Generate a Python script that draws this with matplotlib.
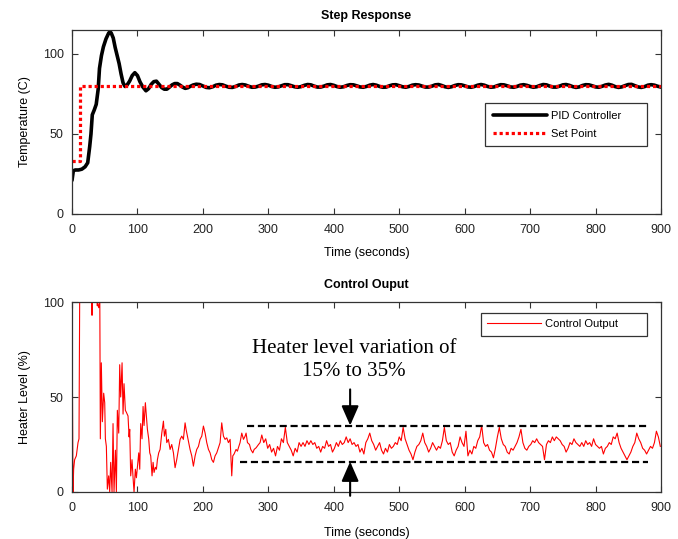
import numpy as np
import matplotlib
matplotlib.use('Agg')
import matplotlib.pyplot as plt

plt.rcParams['font.family'] = ['Liberation Sans', 'DejaVu Sans']

# temperature (C)
temp_t = [0, 2, 5, 10, 15, 20, 24, 27, 29, 31,
          34, 37, 40, 42, 45, 48, 52, 56, 58, 60,
          63, 66, 69, 72, 75, 78, 81, 84, 88, 92,
          96, 100, 104, 108, 113, 117, 121, 125, 129, 133,
          137, 141, 145, 149, 153, 157, 161, 165, 169, 173,
          177] + list(range(180, 901, 5))
temp_v = [21, 27, 27.5, 27.5, 28, 29.5, 32, 42, 50, 62,
          65, 68.5, 78, 91, 99, 104.5, 109.5, 113, 114, 113,
          110, 104, 99, 94, 87.5, 82, 79.7, 80.5, 83, 86.5,
          88.3, 86.5, 82.5, 79.5, 77, 78.3, 81, 82.7, 83, 81,
          79, 78, 78, 79.3, 80.7, 81.5, 81.5, 80.5, 79.3, 78.5,
          78.9,
          # 180 .. 900 every 5 s
          79.6, 80.6, 81.1, 80.9, 80.0, 79.1, 78.9, 79.5, 80.5, 80.9, 80.7, 79.9,
          79.2, 79.1, 79.7, 80.6, 80.9, 80.6, 79.8, 79.2, 79.3, 79.9, 80.7, 80.9,
          80.5, 79.7, 79.2, 79.4, 80.1, 80.8, 80.8, 80.2, 79.5, 79.2, 79.6, 80.4,
          80.9, 80.7, 79.9, 79.3, 79.3, 79.9, 80.7, 80.9, 80.4, 79.6, 79.2, 79.5,
          80.3, 80.8, 80.7, 80.1, 79.4, 79.2, 79.7, 80.5, 80.9, 80.5, 79.7, 79.2,
          79.3, 80.1, 80.7, 80.8, 80.2, 79.5, 79.2, 79.7, 80.5, 80.8, 80.6, 79.9,
          79.3, 79.3, 79.9, 80.7, 80.9, 80.3, 79.5, 79.1, 79.5, 80.3, 80.8, 80.7,
          80.1, 79.4, 79.2, 79.7, 80.5, 80.9, 80.5, 79.7, 79.2, 79.4, 80.2, 80.8,
          80.7, 80.1, 79.4, 79.2, 79.7, 80.5, 80.8, 80.4, 79.7, 79.2, 79.5, 80.3,
          80.9, 80.7, 79.9, 79.3, 79.3, 79.9, 80.7, 80.9, 80.4, 79.6, 79.1, 79.4,
          80.3, 80.8, 80.7, 80.1, 79.4, 79.2, 79.8, 80.6, 81.0, 80.5, 79.6, 79.1,
          79.4, 80.2, 80.9, 81.0, 80.2, 79.4, 79.1, 79.6, 80.5, 80.8, 80.5, 79.8,
          79.3]

# set point
sp_t = [0, 12, 900]
sp_v = [33, 80, 80]

# heater output (%)
ctrl_t = [0, 1.5, 2.5, 4, 6.6, 9.2, 10.7, 11.7, 30, 30.6,
          31.2, 38.5, 38.7, 39, 40.8, 42.5, 43.3, 44.8, 46.4, 48.4,
          50, 51, 52.5, 54, 56, 57.6, 59.1, 61.2, 62.7, 64.2,
          66.3, 67.8, 69.3, 71.4, 72.9, 74.4, 76.5, 78, 79.5, 81.5,
          83, 85.6, 87.2, 88.2, 89.7, 91.7, 93.3, 94.8, 96.8, 98.4,
          99.9, 102, 103.5, 105, 107, 108.6, 110.1, 112.1, 113.7, 115.2,
          117.2, 118.8, 120.3, 122.3, 123.9, 125.4, 127.4, 129, 130.5, 132.5,
          134.6, 137.2, 139.7, 141.2, 143.3, 144.8, 147.3, 149.9, 152.4, 155,
          157.5, 160, 162.6, 165.2, 167.7, 170.2, 172.8, 174.3, 176.4, 178.9,
          180.4, 183, 185.5, 188.1, 190.6, 193.2, 195.7, 198.3, 200.8, 203.4,
          205.9, 208.5, 211, 213.6, 216.1, 218.6, 221.2, 223.7, 226.3, 228.8,
          231.4, 233.9, 236.5, 239, 241.6, 244.1, 245.7, 247.7, 250.7, 252.8,
          254.3, 256.8, 259.4, 262, 264.5, 266, 268.1, 271.2, 273.2, 276.3,
          278.3, 281.4, 285, 287.4] + list(range(290, 900, 3))
ctrl_v = [97, 0, 12, 17, 19, 26, 28, 100, 100, 93,
          100, 100, 98, 100, 97, 100, 28, 68, 37, 52,
          47, 28, 24, 1.5, 8.5, 0, 15.6, 0, 36, 0,
          22, 0, 43, 31, 67, 50, 68, 41, 57, 43,
          42, 40, 29, 33, 8.5, 17, 7.5, 0, 12, 7.5,
          13, 20.6, 12, 36, 28, 45, 35, 47, 40, 33,
          28, 20.6, 19, 8.5, 15.6, 10.3, 13, 12, 17, 20.6,
          22.4, 31, 37.3, 29.4, 33, 26, 27.7, 22.4, 25, 20.6,
          12.8, 17, 22.4, 27.7, 29.4, 27.7, 36.4, 33, 29.4, 25,
          22.4, 19, 13.6, 19, 22.4, 24, 27.7, 29.4, 34.7, 31,
          26, 22.4, 20.6, 17, 15.6, 19, 20.6, 23.3, 26, 36.4,
          29.4, 27.7, 28.5, 26, 27.7, 8.5, 19, 20, 22.4, 21.5,
          23.3, 26, 31, 27.7, 29.4, 31, 26, 25, 22.4, 20.6,
          22.4, 23.3, 25, 26,
          # 290 .. 899 every 3 s
          30, 26, 28, 23, 25, 21, 23, 19, 24, 22,
          28, 26, 34, 26, 24, 22, 19, 23, 21, 26,
          24, 26, 24, 27, 25, 27, 25, 26, 23, 24,
          21, 24, 23, 27, 24, 25, 21, 23, 26, 24,
          27, 25, 26, 29, 26, 28, 25, 26, 24, 25,
          21, 23, 20, 26, 28, 31, 27, 25, 22, 24,
          26, 22, 20, 23, 21, 25, 23, 24, 26, 25,
          29, 27, 34, 28, 25, 22, 20, 17, 21, 24,
          25, 27, 31, 26, 24, 21, 23, 26, 24, 22,
          24, 23, 27, 34, 27, 25, 26, 21, 19, 22,
          24, 29, 26, 24, 32, 19, 22, 20, 24, 23,
          27, 29, 35, 26, 24, 25, 22, 21, 18, 23,
          29, 34, 28, 25, 24, 21, 20, 23, 22, 24,
          26, 29, 33, 26, 23, 22, 24, 25, 27, 26,
          28, 26, 25, 24, 17, 25, 27, 26, 29, 27,
          29, 28, 27, 25, 24, 21, 23, 26, 25, 28,
          26, 25, 24, 26, 24, 27, 25, 26, 24, 28,
          25, 24, 23, 24, 20, 23, 24, 26, 25, 29,
          28, 31, 26, 23, 21, 19, 17, 19, 21, 24,
          26, 31, 28, 26, 23, 22, 20, 22, 24, 23,
          26, 32, 29, 24]

# variation band drawn on the lower plot
band_hi, band_lo = 35, 16
arrow_t = 425

xticks = list(range(0, 901, 100))
yticks = [0, 50, 100]


def style_axes(ax):
    for s in ax.spines.values():
        s.set_color('#333333')
        s.set_linewidth(0.9)
    ax.tick_params(direction='in', top=True, right=True, length=4, width=0.8,
                   color='#333333', labelsize=9, labelcolor='#222222')
    ax.tick_params(axis='x', pad=7)
    ax.tick_params(axis='y', pad=6)
    ax.set_xticks(xticks)
    ax.set_yticks(yticks)
    ax.set_xlim(0, 900)


fig = plt.figure(figsize=(6.78, 5.39), dpi=100)

ax1 = fig.add_axes([0.1062, 0.6030, 0.8687, 0.3414])
ax1.plot(temp_t, temp_v, color='k', lw=2.6, label='PID Controller',
         solid_joinstyle='round', solid_capstyle='round')
ax1.plot(sp_t, sp_v, color='red', lw=2.3, ls=(0, (1, 0.9)), drawstyle='steps-post',
         label='Set Point', dash_capstyle='butt')
style_axes(ax1)
ax1.set_ylim(0, 115)
ax1.set_title('Step Response', fontsize=9, fontweight='bold', pad=8)
ax1.set_xlabel('Time (seconds)', fontsize=9)
ax1.set_ylabel('Temperature (C)', fontsize=9)
ax1.yaxis.set_label_coords(-0.07, 0.5)
ax1.xaxis.set_label_coords(0.5, -0.18)
leg1 = ax1.legend(loc='upper left', bbox_to_anchor=(0.701, 0.603, 0.275, 0.0),
                  mode='expand', fontsize=8, fancybox=False, framealpha=1,
                  edgecolor='#333333', handlelength=4.9, labelspacing=0.7,
                  borderpad=0.7, handletextpad=0.35, borderaxespad=0)
leg1.get_frame().set_linewidth(0.9)

ax2 = fig.add_axes([0.1062, 0.0872, 0.8687, 0.3525])
ax2.plot(ctrl_t, ctrl_v, color='red', lw=0.8, label='Control Output')
style_axes(ax2)
ax2.set_ylim(0, 100)
ax2.set_title('Control Ouput', fontsize=9, fontweight='bold', pad=10)
ax2.set_xlabel('Time (seconds)', fontsize=9)
ax2.set_ylabel('Heater Level (%)', fontsize=9)
ax2.yaxis.set_label_coords(-0.07, 0.5)
ax2.xaxis.set_label_coords(0.5, -0.185)
leg2 = ax2.legend(loc='upper left', bbox_to_anchor=(0.694, 0.944, 0.282, 0.0),
                  mode='expand', fontsize=8, fancybox=False, framealpha=1,
                  edgecolor='#333333', handlelength=4.8, borderpad=0.6,
                  handletextpad=0.4, borderaxespad=0)
leg2.get_frame().set_linewidth(0.9)

# variation band and arrows
ax2.plot([267, 882], [band_hi, band_hi], color='k', lw=1.6, ls=(0, (3.2, 1.7)))
ax2.plot([257, 880], [band_lo, band_lo], color='k', lw=1.6, ls=(0, (3.2, 1.7)))
head = dict(arrowstyle='-|>,head_length=0.8,head_width=0.35', mutation_scale=15,
            color='k', lw=1.5, shrinkA=0, shrinkB=0)
ax2.annotate('', xy=(arrow_t, band_hi), xytext=(arrow_t, 54), arrowprops=head)
ax2.annotate('', xy=(arrow_t, band_lo), xytext=(arrow_t, -2), arrowprops=head,
             annotation_clip=False)
ax2.text(431, 69.5, 'Heater level variation of\n15% to 35%', ha='center', va='center',
         fontsize=15, family='Liberation Serif', linespacing=1.25)

fig.savefig('out.png', dpi=100)
